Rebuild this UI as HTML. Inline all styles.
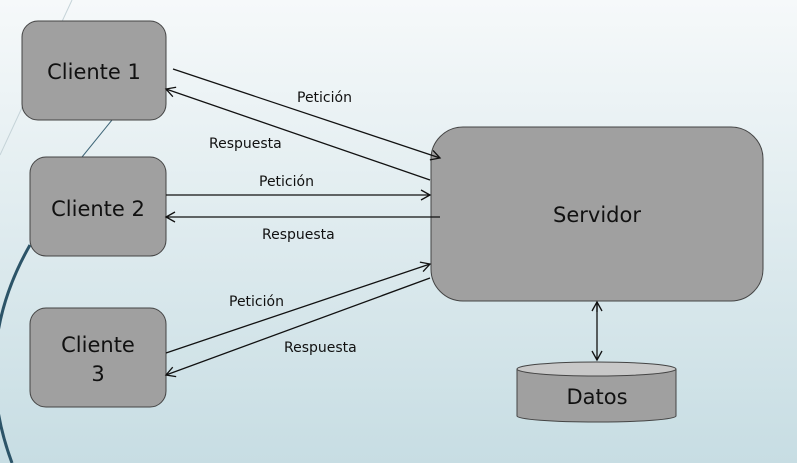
<!DOCTYPE html>
<html><head><meta charset="utf-8"><style>
body{margin:0;width:797px;height:463px;overflow:hidden;background:linear-gradient(#f6f9fa,#c7dde3);font-family:"DejaVu Sans","Liberation Sans",sans-serif;}
svg{position:absolute;left:0;top:0}
</style></head><body>
<svg width="797" height="463" viewBox="0 0 797 463">
<defs><marker id="a" markerWidth="12" markerHeight="12" refX="10" refY="6" orient="auto" markerUnits="userSpaceOnUse"><path d="M1,1 L10,6 L1,11" fill="none" stroke="#111" stroke-width="1.3"/></marker></defs>
<path d="M72,0 L0,155" stroke="#c5d3d8" stroke-width="1" fill="none"/>
<path d="M112,120 L82,157" stroke="#3f6678" stroke-width="1" fill="none"/>
<path d="M30,245 Q-30,350 12,463" stroke="#2c5468" stroke-width="3" fill="none"/>
<g fill="#a0a0a0" stroke="#444" stroke-width="1">
<rect x="22" y="21" width="144" height="99" rx="16"/>
<rect x="30" y="157" width="136" height="99" rx="16"/>
<rect x="30" y="308" width="136" height="99" rx="16"/>
<rect x="431" y="127" width="332" height="174" rx="32"/>
<path d="M517,369 L517,416 A79.5,6 0 0 0 676,416 L676,369"/>
<ellipse cx="596.5" cy="369" rx="79.5" ry="7" fill="#c8c8c8"/>
</g>
<g stroke="#111" stroke-width="1.3" fill="none">
<line x1="173" y1="69" x2="440" y2="158" marker-end="url(#a)"/>
<line x1="430" y1="180" x2="166" y2="89" marker-end="url(#a)"/>
<line x1="166" y1="195" x2="430" y2="195" marker-end="url(#a)"/>
<line x1="440" y1="217" x2="166" y2="217" marker-end="url(#a)"/>
<line x1="166" y1="353" x2="430" y2="264" marker-end="url(#a)"/>
<line x1="430" y1="278" x2="166" y2="375" marker-end="url(#a)"/>
<line x1="597" y1="312" x2="597" y2="302" marker-end="url(#a)"/>
<line x1="597" y1="302" x2="597" y2="360" marker-end="url(#a)"/>
</g>
<g font-size="14" fill="#111">
<text x="297" y="102">Petición</text>
<text x="209" y="148">Respuesta</text>
<text x="259" y="186">Petición</text>
<text x="262" y="239">Respuesta</text>
<text x="229" y="306">Petición</text>
<text x="284" y="352">Respuesta</text>
</g>
<g font-size="21" fill="#111" text-anchor="middle">
<text x="94" y="79">Cliente 1</text>
<text x="98" y="216">Cliente 2</text>
<text x="98" y="352">Cliente</text>
<text x="98" y="381">3</text>
<text x="597" y="222">Servidor</text>
<text x="597" y="404">Datos</text>
</g>
</svg>
</body></html>
